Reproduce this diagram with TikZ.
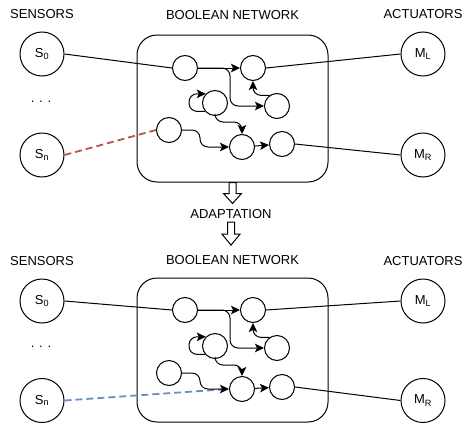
\documentclass[tikz,border=0pt]{standalone}
\usepackage{fontspec}
\setmainfont{Liberation Sans}
\usetikzlibrary{arrows.meta, calc}
\definecolor{bnred}{RGB}{184, 84, 80}
\definecolor{bnblue}{RGB}{108, 142, 191}

\begin{document}
\begin{tikzpicture}[x=1pt, y=-1pt, >={Stealth[length=9pt, width=8.5pt, inset=2pt]},
    every node/.style={font=\fontsize{13}{15}\selectfont},
    io/.style={draw, circle, line width=1pt, minimum size=44pt, inner sep=0pt},
    unit/.style={draw, circle, line width=1pt, minimum size=25pt, inner sep=0pt},
    netbox/.style={draw, line width=1pt, rounded corners=20pt, minimum width=191pt},
    wire/.style={line width=1pt},
    link/.style={->, line width=1pt, rounded corners=8pt},
    newlink/.style={line width=1.8pt, dash pattern=on 7pt off 4pt}]

\useasboundingbox (0,0) rectangle (468,423);

% ============================================================
% ANTES (arriba) — red booleana original
% ============================================================

% Titulos
\node (lbl-sens-top) at (42,14) {SENSORS};
\node (lbl-net-top) at (232.5,15) {BOOLEAN NETWORK};
\node (lbl-act-top) at (423,14) {ACTUATORS};

% Caja de la red
\node[netbox, minimum height=147pt] (net-top) at (232.5,108.5) {};

% Sensores y actuadores
\node[io] (s0-top) at (42,54) {S\textsubscript{0}};
\node (dots-top) at (41,102) {. . .};
\node[io] (sn-top) at (42,155) {S\textsubscript{n}};
\node[io] (ml-top) at (423,54) {M\textsubscript{L}};
\node[io] (mr-top) at (423,155) {M\textsubscript{R}};

% Nodos internos
\node[unit] (a-top) at (185,68) {};
\node[unit] (b-top) at (253,68) {};
\node[unit] (c-top) at (277,106) {};
\node[unit] (d-top) at (215,103) {};
\node[unit] (e-top) at (169,130) {};
\node[unit] (f-top) at (242,147) {};
\node[unit] (g-top) at (282,144) {};

% Conexiones externas
\draw[wire] (s0-top.east) -- (a-top.west);
\draw[wire] (b-top.east) -- (ml-top.west);
\draw[wire] (g-top.east) -- (mr-top.west);
\draw[newlink, bnred] (sn-top.east) -- (e-top.west);

% Conexiones internas
\draw[link] (a-top) -- (b-top);
\draw[link] (a-top.east) -- ++(32,0) |- (c-top.west);
\draw[link] (c-top.125) -| (b-top.south);
\draw[link] (d-top.220) -- ++(-16,0) |- (d-top.135);
\draw[link] (d-top.south) -- ++(0,6) -| (f-top.north);
\draw[link] (e-top.east) -- ++(18,0) |- (f-top.west);
\draw[link] (f-top) -- (g-top);

% ============================================================
% ADAPTACION — flechas huecas
% ============================================================

\node (lbl-adapt) at (231,214) {ADAPTATION};
\draw[wire, fill=white] (net-top.south) ++(-3.5,0) -- ++(7,0) -- ++(0,11)
    -- ++(5.5,0) -- ++(-9,10) -- ++(-9,-10) -- ++(5.5,0) -- cycle;
\draw[wire, fill=white] (lbl-adapt.south) ++(-3.5,0) -- ++(7,0) -- ++(0,12)
    -- ++(5.5,0) -- ++(-9,11) -- ++(-9,-11) -- ++(5.5,0) -- cycle;

% ============================================================
% DESPUES (abajo) — red booleana adaptada
% ============================================================

% Titulos
\node (lbl-sens-bot) at (42,261) {SENSORS};
\node (lbl-net-bot) at (232.5,260) {BOOLEAN NETWORK};
\node (lbl-act-bot) at (423,261) {ACTUATORS};

% Caja de la red
\node[netbox, minimum height=144pt] (net-bot) at (232.5,350) {};

% Sensores y actuadores
\node[io] (s0-bot) at (42,301) {S\textsubscript{0}};
\node (dots-bot) at (41,347) {. . .};
\node[io] (sn-bot) at (42,400.5) {S\textsubscript{n}};
\node[io] (ml-bot) at (423,301) {M\textsubscript{L}};
\node[io] (mr-bot) at (423,400.5) {M\textsubscript{R}};

% Nodos internos
\node[unit] (a-bot) at (185,310) {};
\node[unit] (b-bot) at (253,310) {};
\node[unit] (c-bot) at (277,348) {};
\node[unit] (d-bot) at (215,346) {};
\node[unit] (e-bot) at (169,373) {};
\node[unit] (f-bot) at (242,389) {};
\node[unit] (g-bot) at (282,387) {};

% Conexiones externas
\draw[wire] (s0-bot.east) -- (a-bot.west);
\draw[wire] (b-bot.east) -- (ml-bot.west);
\draw[wire] (g-bot.east) -- (mr-bot.west);
\draw[newlink, bnblue] (sn-bot.east) -- (f-bot.west);

% Conexiones internas
\draw[link] (a-bot) -- (b-bot);
\draw[link] (a-bot.east) -- ++(32,0) |- (c-bot.west);
\draw[link] (c-bot.125) -| (b-bot.south);
\draw[link] (d-bot.220) -- ++(-16,0) |- (d-bot.135);
\draw[link] (d-bot.south) -- ++(0,6) -| (f-bot.north);
\draw[link] (e-bot.east) -- ++(18,0) |- (f-bot.west);
\draw[link] (f-bot) -- (g-bot);

\end{tikzpicture}
\end{document}
